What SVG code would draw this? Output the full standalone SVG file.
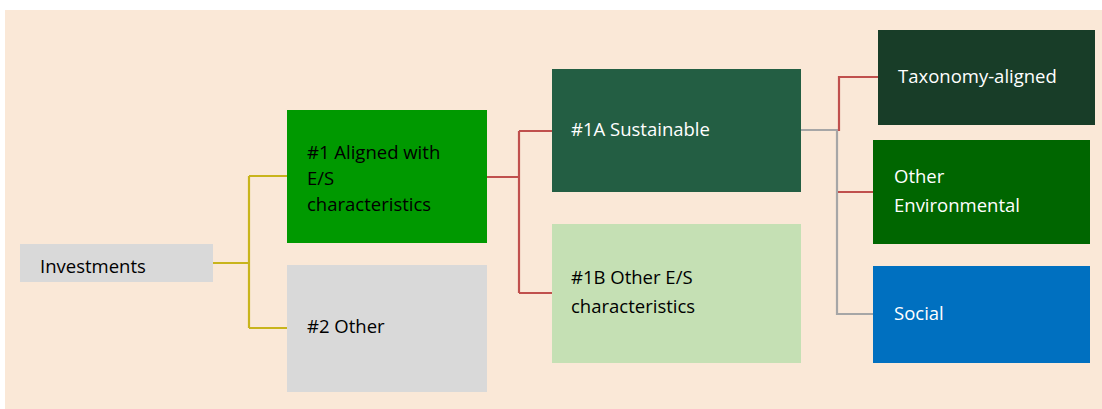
<svg xmlns="http://www.w3.org/2000/svg" width="1102" height="409" viewBox="0 0 1102 409">
<style>
text{font-family:"Open Sans","Noto Sans","Liberation Sans",sans-serif;font-size:18.5px}
.dk{fill:#000}
.lt{fill:#fff}
.c{fill:none;stroke-width:2.2}
.y{stroke:#C8B41C}
.r{stroke:#C0504D}
.g{stroke:#A6A6A6}
</style>
<rect x="0" y="0" width="1102" height="409" fill="#fff"/>
<rect x="5" y="10" width="1097" height="399" fill="#FAE8D7"/>
<g id="connectors">
<path class="c y" d="M213 263H249M249 176V328M249 176H287M249 328H287"/>
<path class="c r" d="M487 177H519M519 131V293M519 131H552M519 293H552"/>
<path class="c g" d="M801 130H837V314H873"/>
<path class="c r" d="M839 131V77H878M838 192H873"/>
</g>
<g id="investments"><rect x="20" y="244" width="193" height="38" fill="#D9D9D9"/><text class="dk" x="40" y="273">Investments</text></g>
<g id="aligned"><rect x="287" y="110" width="200" height="133" fill="#009900"/><text class="dk" x="307" y="159">#1 Aligned with</text><text class="dk" x="307" y="185">E/S</text><text class="dk" x="307" y="211">characteristics</text></g>
<g id="other"><rect x="287" y="265" width="200" height="127" fill="#D9D9D9"/><text class="dk" x="307" y="333">#2 Other</text></g>
<g id="sustainable"><rect x="552" y="69" width="249" height="123" fill="#235E43"/><text class="lt" x="571" y="136">#1A Sustainable</text></g>
<g id="other-es"><rect x="552" y="224" width="249" height="139" fill="#C5E0B4"/><text class="dk" x="571" y="284">#1B Other E/S</text><text class="dk" x="571" y="313">characteristics</text></g>
<g id="taxonomy"><rect x="878" y="30" width="217" height="95" fill="#183D28"/><text class="lt" x="898" y="83">Taxonomy-aligned</text></g>
<g id="other-env"><rect x="873" y="140" width="217" height="104" fill="#006600"/><text class="lt" x="894" y="183">Other</text><text class="lt" x="894" y="212">Environmental</text></g>
<g id="social"><rect x="873" y="266" width="217" height="97" fill="#0070C0"/><text class="lt" x="894" y="320">Social</text></g>
</svg>
